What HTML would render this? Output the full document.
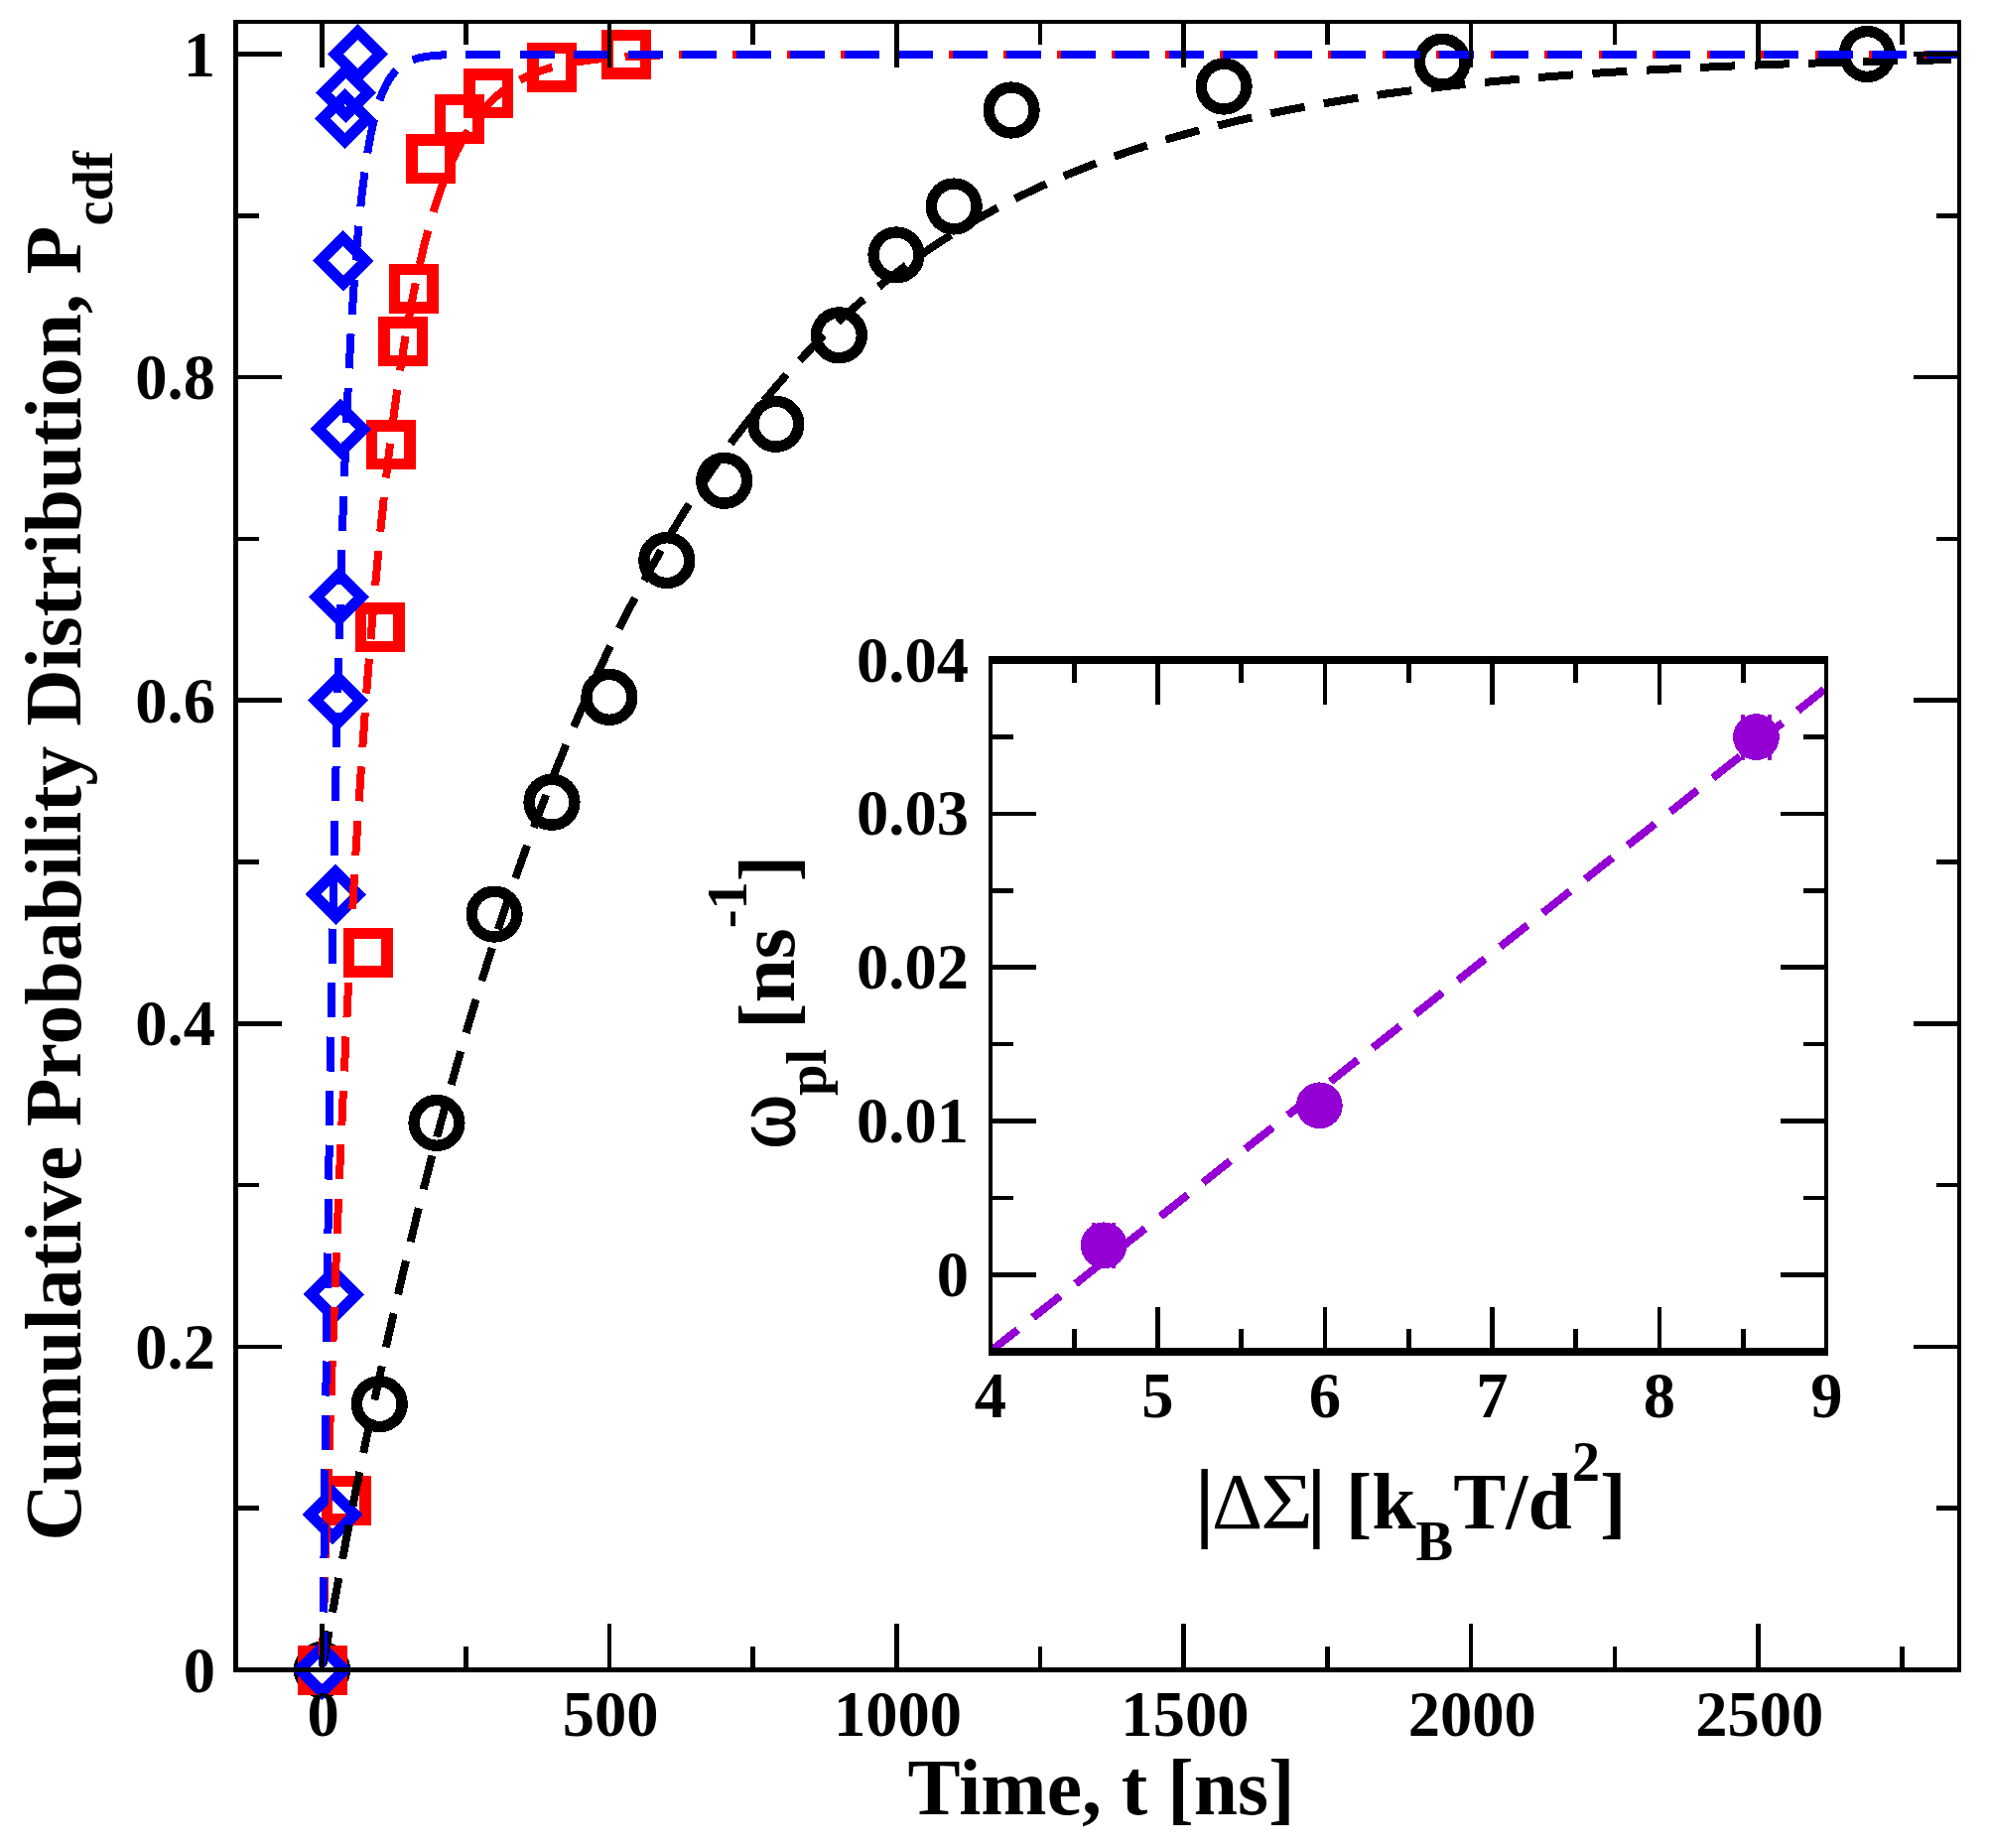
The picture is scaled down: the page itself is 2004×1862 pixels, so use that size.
<!DOCTYPE html>
<html lang="en"><head><meta charset="utf-8"><title>Cumulative Probability Distribution</title>
<style>html,body{margin:0;padding:0;background:#fff}svg{display:block}text{font-family:"Liberation Serif","DejaVu Serif",serif;font-weight:bold;fill:#000}.sym{font-weight:normal}</style></head><body>
<svg width="2004" height="1862" viewBox="0 0 2004 1862" shape-rendering="crispEdges">
<rect x="0" y="0" width="2004" height="1862" fill="#fff"/>
<g fill="none" stroke-linejoin="miter">
<g stroke="#000" stroke-width="11.4">
<circle cx="324.5" cy="1682.5" r="22.9"/>
<circle cx="382.3" cy="1414.7" r="22.9"/>
<circle cx="440.0" cy="1131.4" r="22.9"/>
<circle cx="498.1" cy="921.1" r="22.9"/>
<circle cx="556.0" cy="808.3" r="22.9"/>
<circle cx="613.9" cy="702.4" r="22.9"/>
<circle cx="671.8" cy="564.6" r="22.9"/>
<circle cx="729.7" cy="484.3" r="22.9"/>
<circle cx="781.8" cy="427.3" r="22.9"/>
<circle cx="845.4" cy="337.8" r="22.9"/>
<circle cx="903.0" cy="256.9" r="22.9"/>
<circle cx="961.2" cy="208.0" r="22.9"/>
<circle cx="1019.1" cy="111.0" r="22.9"/>
<circle cx="1233.1" cy="87.1" r="22.9"/>
<circle cx="1453.2" cy="62.2" r="22.9"/>
<circle cx="1881.4" cy="54.5" r="22.9"/>
</g>
<g stroke="#f00" stroke-width="11.5">
<rect x="305.25" y="1663.25" width="38.5" height="38.5"/>
<rect x="329.73" y="1492.47" width="38.5" height="38.5"/>
<rect x="351.55" y="940.74" width="38.5" height="38.5"/>
<rect x="363.36" y="613.19" width="38.5" height="38.5"/>
<rect x="374.71" y="429.23" width="38.5" height="38.5"/>
<rect x="386.75" y="325.03" width="38.5" height="38.5"/>
<rect x="397.57" y="271.31" width="38.5" height="38.5"/>
<rect x="415.22" y="141.07" width="38.5" height="38.5"/>
<rect x="443.58" y="100.37" width="38.5" height="38.5"/>
<rect x="473.10" y="74.81" width="38.5" height="38.5"/>
<rect x="536.77" y="48.27" width="38.5" height="38.5"/>
<rect x="611.78" y="35.25" width="38.5" height="38.5"/>
</g>
<g stroke="#00f" stroke-width="11.3">
<path d="M301.9 1682.5L324.5 1659.9L347.1 1682.5L324.5 1705.1Z"/>
<path d="M312.3 1526.2L334.9 1503.6L357.5 1526.2L334.9 1548.8Z"/>
<path d="M313.7 1304.2L336.3 1281.6L358.9 1304.2L336.3 1326.8Z"/>
<path d="M315.8 901.1L338.4 878.5L361.0 901.1L338.4 923.7Z"/>
<path d="M318.1 705.7L340.7 683.1L363.3 705.7L340.7 728.3Z"/>
<path d="M319.1 601.5L341.7 578.9L364.3 601.5L341.7 624.1Z"/>
<path d="M320.7 432.2L343.3 409.6L365.9 432.2L343.3 454.8Z"/>
<path d="M323.0 262.9L345.6 240.3L368.2 262.9L345.6 285.5Z"/>
<path d="M325.1 119.6L347.7 97.0L370.3 119.6L347.7 142.2Z"/>
<path d="M326.2 93.6L348.8 71.0L371.4 93.6L348.8 116.2Z"/>
<path d="M337.8 54.5L360.4 31.9L383.0 54.5L360.4 77.1Z"/>
</g>
<clipPath id="cp"><rect x="240" y="24" width="1732" height="1656"/></clipPath>
<g clip-path="url(#cp)">
<path d="M324.5 1682.5L325.1 1679.2L325.7 1676.0L326.2 1672.8L326.8 1669.5L327.4 1666.3L328.0 1663.1L328.6 1659.9L329.1 1656.7L329.7 1653.5L330.3 1650.3L330.9 1647.1L331.4 1643.9L332.0 1640.7L332.6 1637.5L333.2 1634.4L333.8 1631.2L334.3 1628.1L334.9 1624.9L335.5 1621.8L336.1 1618.7L336.7 1615.5L337.2 1612.4L337.8 1609.3L338.4 1606.2L339.0 1603.1L339.5 1600.0L340.1 1596.9L340.7 1593.8L341.3 1590.8L341.9 1587.7L342.4 1584.6L343.0 1581.6L343.6 1578.5L344.2 1575.5L344.8 1572.4L345.3 1569.4L345.9 1566.4L346.5 1563.4L347.1 1560.3L347.7 1557.3L348.2 1554.3L348.8 1551.3L349.4 1548.3L350.0 1545.4L350.5 1542.4L351.1 1539.4L351.7 1536.4L352.3 1533.5L352.9 1530.5L353.4 1527.6L354.0 1524.6L354.6 1521.7L355.2 1518.8L355.8 1515.8L356.3 1512.9L356.9 1510.0L357.5 1507.1L358.1 1504.2L358.6 1501.3L359.2 1498.4L359.8 1495.5L360.4 1492.6L361.0 1489.8L361.5 1486.9L362.1 1484.0L362.7 1481.2L363.3 1478.3L363.9 1475.5L364.4 1472.6L365.0 1469.8L365.6 1467.0L366.2 1464.2L366.8 1461.3L367.3 1458.5L367.9 1455.7L368.5 1452.9L369.1 1450.1L369.6 1447.4L370.2 1444.6L370.8 1441.8L371.4 1439.0L372.0 1436.3L372.5 1433.5L373.1 1430.7L373.7 1428.0L374.3 1425.2L374.9 1422.5L375.4 1419.8L376.0 1417.0L376.6 1414.3L377.2 1411.6L377.7 1408.9L378.3 1406.2L378.9 1403.5L379.5 1400.8L380.1 1398.1L380.6 1395.4L381.2 1392.7L381.8 1390.1L382.4 1387.4L383.0 1384.7L383.5 1382.1L384.1 1379.4L384.7 1376.8L385.3 1374.1L385.9 1371.5L386.4 1368.9L387.0 1366.2L387.6 1363.6L388.2 1361.0L388.7 1358.4L389.3 1355.8L389.9 1353.2L390.5 1350.6L391.1 1348.0L391.6 1345.4L392.2 1342.8L392.8 1340.3L393.4 1337.7L394.0 1335.1L394.5 1332.6L395.1 1330.0L395.7 1327.5L396.3 1324.9L396.9 1322.4L397.4 1319.9L398.0 1317.3L398.6 1314.8L399.2 1312.3L399.7 1309.8L400.3 1307.3L400.9 1304.8L401.5 1302.3L402.1 1299.8L402.6 1297.3L403.2 1294.8L403.8 1292.3L404.4 1289.8L405.0 1287.4L405.5 1284.9L406.1 1282.5L406.7 1280.0L407.3 1277.6L407.8 1275.1L408.4 1272.7L409.0 1270.2L409.6 1267.8L410.2 1265.4L410.7 1263.0L411.3 1260.6L411.9 1258.1L412.5 1255.7L413.1 1253.3L413.6 1250.9L414.2 1248.6L414.8 1246.2L415.4 1243.8L416.0 1241.4L416.5 1239.0L417.1 1236.7L417.7 1234.3L418.3 1232.0L418.8 1229.6L419.4 1227.3L420.0 1224.9L420.6 1222.6L421.2 1220.2L421.7 1217.9L422.3 1215.6L422.9 1213.3L423.5 1210.9L424.1 1208.6L424.6 1206.3L425.2 1204.0L425.8 1201.7L426.4 1199.4L426.9 1197.2L427.5 1194.9L428.1 1192.6L428.7 1190.3L429.3 1188.0L429.8 1185.8L430.4 1183.5L431.0 1181.3L431.6 1179.0L432.2 1176.8L432.7 1174.5L433.3 1172.3L433.9 1170.1L434.5 1167.8L435.1 1165.6L435.6 1163.4L436.2 1161.2L436.8 1159.0L437.4 1156.7L437.9 1154.5L438.5 1152.3L439.1 1150.2L439.7 1148.0L440.3 1145.8L440.8 1143.6L441.4 1141.4L442.0 1139.3L442.6 1137.1L443.2 1134.9L443.7 1132.8L444.3 1130.6L444.9 1128.5L445.5 1126.3L446.0 1124.2L446.6 1122.0L447.2 1119.9L447.8 1117.8L448.4 1115.6L448.9 1113.5L449.5 1111.4L450.1 1109.3L450.7 1107.2L451.3 1105.1L451.8 1103.0L452.4 1100.9L453.0 1098.8L453.6 1096.7L454.2 1094.6L454.7 1092.6L455.3 1090.5L455.9 1088.4L456.5 1086.3L457.0 1084.3L457.6 1082.2L458.2 1080.2L458.8 1078.1L459.4 1076.1L459.9 1074.0L460.5 1072.0L461.1 1070.0L461.7 1067.9L462.3 1065.9L462.8 1063.9L463.4 1061.9L464.0 1059.9L464.6 1057.9L465.1 1055.9L465.7 1053.9L466.3 1051.9L466.9 1049.9L467.5 1047.9L468.0 1045.9L468.6 1043.9L469.2 1041.9L469.8 1040.0L470.4 1038.0L470.9 1036.0L471.5 1034.1L472.1 1032.1L472.7 1030.2L473.3 1028.2L473.8 1026.3L474.4 1024.3L475.0 1022.4L475.6 1020.4L476.1 1018.5L476.7 1016.6L477.3 1014.7L477.9 1012.7L478.5 1010.8L479.0 1008.9L479.6 1007.0L480.2 1005.1L480.8 1003.2L481.4 1001.3L481.9 999.4L482.5 997.5L483.1 995.7L483.7 993.8L484.2 991.9L484.8 990.0L485.4 988.2L486.0 986.3L486.6 984.4L487.1 982.6L487.7 980.7L488.3 978.9L488.9 977.0L489.5 975.2L490.0 973.3L490.6 971.5L491.2 969.7L491.8 967.8L492.4 966.0L492.9 964.2L493.5 962.4L494.1 960.6L494.7 958.8L495.2 956.9L495.8 955.1L496.4 953.3L497.0 951.5L497.6 949.8L498.1 948.0L498.7 946.2L499.3 944.4L499.9 942.6L500.5 940.8L501.0 939.1L501.6 937.3L502.2 935.5L502.8 933.8L503.3 932.0L503.9 930.3L504.5 928.5L505.1 926.8L505.7 925.0L506.2 923.3L506.8 921.6L507.4 919.8L508.0 918.1L508.6 916.4L509.1 914.7L509.7 912.9L510.3 911.2L510.9 909.5L511.5 907.8L512.0 906.1L512.6 904.4L513.2 902.7L513.8 901.0L514.3 899.3L514.9 897.6L515.5 895.9L516.1 894.3L516.7 892.6L517.2 890.9L517.8 889.2L518.4 887.6L519.0 885.9L519.6 884.2L520.1 882.6L520.7 880.9L521.3 879.3L521.9 877.6L522.4 876.0L523.0 874.3L523.6 872.7L524.2 871.1L524.8 869.4L525.3 867.8L525.9 866.2L526.5 864.6L527.1 862.9L527.7 861.3L528.2 859.7L528.8 858.1L529.4 856.5L530.0 854.9L530.6 853.3L531.1 851.7L531.7 850.1L532.3 848.5L532.9 846.9L533.4 845.3L534.0 843.8L534.6 842.2L535.2 840.6L535.8 839.0L536.3 837.5L536.9 835.9L537.5 834.4L538.1 832.8L538.7 831.2L539.2 829.7L539.8 828.1L540.4 826.6L541.0 825.1L541.5 823.5L542.1 822.0L542.7 820.4L543.3 818.9L543.9 817.4L544.4 815.9L545.0 814.3L545.6 812.8L546.2 811.3L546.8 809.8L547.3 808.3L547.9 806.8L548.5 805.3L549.1 803.8L549.7 802.3L550.2 800.8L550.8 799.3L551.4 797.8L552.0 796.3L552.5 794.8L553.1 793.4L553.7 791.9L554.3 790.4L554.9 788.9L555.4 787.5L556.0 786.0L558.9 778.7L561.8 771.5L564.7 764.4L567.6 757.3L570.5 750.3L573.4 743.4L576.3 736.6L579.2 729.8L582.1 723.0L585.0 716.4L587.9 709.8L590.7 703.3L593.6 696.8L596.5 690.4L599.4 684.1L602.3 677.8L605.2 671.6L608.1 665.5L611.0 659.4L613.9 653.4L616.8 647.4L619.7 641.5L622.6 635.7L625.5 629.9L628.4 624.2L631.3 618.5L634.2 612.9L637.1 607.4L639.9 601.9L642.8 596.4L645.7 591.0L648.6 585.7L651.5 580.4L654.4 575.2L657.3 570.0L660.2 564.9L663.1 559.8L666.0 554.7L668.9 549.8L671.8 544.8L674.7 540.0L677.6 535.1L680.5 530.4L683.4 525.6L686.2 520.9L689.1 516.3L692.0 511.7L694.9 507.1L697.8 502.6L700.7 498.2L703.6 493.8L706.5 489.4L709.4 485.1L712.3 480.8L715.2 476.5L718.1 472.3L721.0 468.2L723.9 464.1L726.8 460.0L729.7 456.0L732.6 452.0L735.4 448.0L738.3 444.1L741.2 440.2L744.1 436.4L747.0 432.6L749.9 428.8L752.8 425.1L755.7 421.4L758.6 417.8L761.5 414.1L764.4 410.6L767.3 407.0L770.2 403.5L773.1 400.0L776.0 396.6L778.9 393.2L781.8 389.8L784.6 386.5L787.5 383.2L790.4 379.9L793.3 376.7L796.2 373.5L799.1 370.3L802.0 367.2L804.9 364.0L807.8 361.0L810.7 357.9L813.6 354.9L816.5 351.9L819.4 348.9L822.3 346.0L825.2 343.1L828.1 340.2L831.0 337.4L833.8 334.6L836.7 331.8L839.6 329.0L842.5 326.3L845.4 323.6L848.3 320.9L851.2 318.3L854.1 315.7L857.0 313.1L859.9 310.5L862.8 307.9L865.7 305.4L868.6 302.9L871.5 300.4L874.4 298.0L877.3 295.6L880.1 293.2L883.0 290.8L885.9 288.5L888.8 286.1L891.7 283.8L894.6 281.5L897.5 279.3L900.4 277.0L903.3 274.8L906.2 272.6L909.1 270.5L912.0 268.3L914.9 266.2L917.8 264.1L920.7 262.0L923.6 259.9L926.5 257.9L929.3 255.9L932.2 253.9L935.1 251.9L938.0 249.9L940.9 248.0L943.8 246.0L946.7 244.1L949.6 242.2L952.5 240.4L955.4 238.5L958.3 236.7L961.2 234.9L964.1 233.1L967.0 231.3L969.9 229.6L972.8 227.8L975.6 226.1L978.5 224.4L981.4 222.7L984.3 221.0L987.2 219.4L990.1 217.7L993.0 216.1L995.9 214.5L998.8 212.9L1001.7 211.3L1004.6 209.8L1007.5 208.2L1010.4 206.7L1013.3 205.2L1016.2 203.7L1019.1 202.2L1022.0 200.7L1024.8 199.3L1027.7 197.8L1030.6 196.4L1033.5 195.0L1036.4 193.6L1039.3 192.2L1042.2 190.8L1045.1 189.5L1048.0 188.1L1050.9 186.8L1053.8 185.5L1056.7 184.2L1059.6 182.9L1062.5 181.6L1065.4 180.4L1068.3 179.1L1071.2 177.9L1074.0 176.6L1076.9 175.4L1079.8 174.2L1082.7 173.0L1085.6 171.8L1088.5 170.7L1091.4 169.5L1094.3 168.4L1097.2 167.2L1100.1 166.1L1103.0 165.0L1105.9 163.9L1108.8 162.8L1111.7 161.7L1114.6 160.7L1117.5 159.6L1120.3 158.6L1123.2 157.5L1126.1 156.5L1129.0 155.5L1131.9 154.5L1134.8 153.5L1137.7 152.5L1140.6 151.5L1143.5 150.6L1146.4 149.6L1149.3 148.7L1152.2 147.7L1155.1 146.8L1158.0 145.9L1160.9 145.0L1163.8 144.1L1166.7 143.2L1169.5 142.3L1172.4 141.4L1175.3 140.6L1178.2 139.7L1181.1 138.9L1184.0 138.0L1186.9 137.2L1189.8 136.4L1192.7 135.6L1195.6 134.7L1198.5 133.9L1201.4 133.2L1204.3 132.4L1207.2 131.6L1210.1 130.8L1213.0 130.1L1215.9 129.3L1218.7 128.6L1221.6 127.8L1224.5 127.1L1227.4 126.4L1230.3 125.7L1233.2 125.0L1236.1 124.3L1239.0 123.6L1241.9 122.9L1244.8 122.2L1247.7 121.5L1250.6 120.9L1253.5 120.2L1256.4 119.5L1259.3 118.9L1262.2 118.3L1265.0 117.6L1267.9 117.0L1270.8 116.4L1273.7 115.8L1276.6 115.1L1279.5 114.5L1282.4 113.9L1285.3 113.4L1288.2 112.8L1291.1 112.2L1294.0 111.6L1296.9 111.0L1299.8 110.5L1302.7 109.9L1305.6 109.4L1308.5 108.8L1311.4 108.3L1314.2 107.8L1317.1 107.2L1320.0 106.7L1322.9 106.2L1325.8 105.7L1328.7 105.2L1331.6 104.7L1334.5 104.2L1337.4 103.7L1340.3 103.2L1343.2 102.7L1346.1 102.2L1349.0 101.7L1351.9 101.3L1354.8 100.8L1357.7 100.3L1360.6 99.9L1363.4 99.4L1366.3 99.0L1369.2 98.5L1372.1 98.1L1375.0 97.7L1377.9 97.2L1380.8 96.8L1383.7 96.4L1386.6 96.0L1389.5 95.6L1392.4 95.2L1395.3 94.7L1398.2 94.3L1401.1 94.0L1404.0 93.6L1406.9 93.2L1409.8 92.8L1412.6 92.4L1415.5 92.0L1418.4 91.7L1421.3 91.3L1424.2 90.9L1427.1 90.6L1430.0 90.2L1432.9 89.8L1435.8 89.5L1438.7 89.1L1441.6 88.8L1444.5 88.5L1447.4 88.1L1450.3 87.8L1453.2 87.5L1456.1 87.1L1458.9 86.8L1461.8 86.5L1464.7 86.2L1467.6 85.8L1470.5 85.5L1473.4 85.2L1476.3 84.9L1479.2 84.6L1482.1 84.3L1485.0 84.0L1487.9 83.7L1490.8 83.4L1493.7 83.1L1496.6 82.9L1499.5 82.6L1502.4 82.3L1505.3 82.0L1508.1 81.8L1511.0 81.5L1513.9 81.2L1516.8 80.9L1519.7 80.7L1522.6 80.4L1525.5 80.2L1528.4 79.9L1531.3 79.7L1534.2 79.4L1537.1 79.2L1540.0 78.9L1542.9 78.7L1545.8 78.4L1548.7 78.2L1551.6 78.0L1554.5 77.7L1557.3 77.5L1560.2 77.3L1563.1 77.0L1566.0 76.8L1568.9 76.6L1571.8 76.4L1574.7 76.2L1577.6 75.9L1580.5 75.7L1583.4 75.5L1586.3 75.3L1589.2 75.1L1592.1 74.9L1595.0 74.7L1597.9 74.5L1600.8 74.3L1603.6 74.1L1606.5 73.9L1609.4 73.7L1612.3 73.5L1615.2 73.3L1618.1 73.1L1621.0 73.0L1623.9 72.8L1626.8 72.6L1629.7 72.4L1632.6 72.2L1635.5 72.1L1638.4 71.9L1641.3 71.7L1644.2 71.5L1647.1 71.4L1650.0 71.2L1652.8 71.0L1655.7 70.9L1658.6 70.7L1661.5 70.5L1664.4 70.4L1667.3 70.2L1670.2 70.1L1673.1 69.9L1676.0 69.8L1678.9 69.6L1681.8 69.5L1684.7 69.3L1687.6 69.2L1690.5 69.0L1693.4 68.9L1696.3 68.7L1699.1 68.6L1702.0 68.4L1704.9 68.3L1707.8 68.2L1710.7 68.0L1713.6 67.9L1716.5 67.8L1719.4 67.6L1722.3 67.5L1725.2 67.4L1728.1 67.2L1731.0 67.1L1733.9 67.0L1736.8 66.9L1739.7 66.7L1742.6 66.6L1745.5 66.5L1748.3 66.4L1751.2 66.3L1754.1 66.1L1757.0 66.0L1759.9 65.9L1762.8 65.8L1765.7 65.7L1768.6 65.6L1771.5 65.5L1774.4 65.4L1777.3 65.3L1780.2 65.1L1783.1 65.0L1786.0 64.9L1788.9 64.8L1791.8 64.7L1794.7 64.6L1797.5 64.5L1800.4 64.4L1803.3 64.3L1806.2 64.2L1809.1 64.1L1812.0 64.0L1814.9 63.9L1817.8 63.8L1820.7 63.8L1823.6 63.7L1826.5 63.6L1829.4 63.5L1832.3 63.4L1835.2 63.3L1838.1 63.2L1841.0 63.1L1843.8 63.0L1846.7 63.0L1849.6 62.9L1852.5 62.8L1855.4 62.7L1858.3 62.6L1861.2 62.5L1864.1 62.5L1867.0 62.4L1869.9 62.3L1872.8 62.2L1875.7 62.2L1878.6 62.1L1881.5 62.0L1884.4 61.9L1887.3 61.9L1890.2 61.8L1893.0 61.7L1895.9 61.6L1898.8 61.6L1901.7 61.5L1904.6 61.4L1907.5 61.4L1910.4 61.3L1913.3 61.2L1916.2 61.2L1919.1 61.1L1922.0 61.0L1924.9 61.0L1927.8 60.9L1930.7 60.8L1933.6 60.8L1936.5 60.7L1939.4 60.6L1942.2 60.6L1945.1 60.5L1948.0 60.5L1950.9 60.4L1953.8 60.3L1956.7 60.3L1959.6 60.2L1962.5 60.2L1965.4 60.1L1968.3 60.1L1971.2 60.0L1974.1 59.9" stroke="#000" stroke-width="8" stroke-dasharray="35 19.5" stroke-dashoffset="-4.5"/>
<path d="M324.5 1682.5L325.1 1663.1L325.7 1643.9L326.2 1624.9L326.8 1606.2L327.4 1587.7L328.0 1569.4L328.6 1551.3L329.1 1533.5L329.7 1515.8L330.3 1498.4L330.9 1481.2L331.4 1464.2L332.0 1447.4L332.6 1430.7L333.2 1414.3L333.8 1398.1L334.3 1382.1L334.9 1366.2L335.5 1350.6L336.1 1335.1L336.7 1319.9L337.2 1304.8L337.8 1289.8L338.4 1275.1L339.0 1260.6L339.5 1246.2L340.1 1232.0L340.7 1217.9L341.3 1204.0L341.9 1190.3L342.4 1176.8L343.0 1163.4L343.6 1150.2L344.2 1137.1L344.8 1124.2L345.3 1111.4L345.9 1098.8L346.5 1086.3L347.1 1074.0L347.7 1061.9L348.2 1049.9L348.8 1038.0L349.4 1026.3L350.0 1014.7L350.5 1003.2L351.1 991.9L351.7 980.7L352.3 969.7L352.9 958.8L353.4 948.0L354.0 937.3L354.6 926.8L355.2 916.4L355.8 906.1L356.3 895.9L356.9 885.9L357.5 876.0L358.1 866.2L358.6 856.5L359.2 846.9L359.8 837.5L360.4 828.1L361.0 818.9L361.5 809.8L362.1 800.8L362.7 791.9L363.3 783.1L363.9 774.4L364.4 765.8L365.0 757.3L365.6 748.9L366.2 740.7L366.8 732.5L367.3 724.4L367.9 716.4L368.5 708.5L369.1 700.7L369.6 693.0L370.2 685.4L370.8 677.8L371.4 670.4L372.0 663.1L372.5 655.8L373.1 648.6L373.7 641.5L374.3 634.5L374.9 627.6L375.4 620.8L376.0 614.0L376.6 607.4L377.2 600.8L377.7 594.3L378.3 587.8L378.9 581.5L379.5 575.2L380.1 569.0L380.6 562.8L381.2 556.8L381.8 550.8L382.4 544.8L383.0 539.0L383.5 533.2L384.1 527.5L384.7 521.9L385.3 516.3L385.9 510.8L386.4 505.3L387.0 500.0L387.6 494.6L388.2 489.4L388.7 484.2L389.3 479.1L389.9 474.0L390.5 469.0L391.1 464.1L391.6 459.2L392.2 454.4L392.8 449.6L393.4 444.9L394.0 440.2L394.5 435.6L395.1 431.1L395.7 426.6L396.3 422.1L396.9 417.8L397.4 413.4L398.0 409.1L398.6 404.9L399.2 400.7L399.7 396.6L400.3 392.5L400.9 388.5L401.5 384.5L402.1 380.6L402.6 376.7L403.2 372.8L403.8 369.0L404.4 365.3L405.0 361.6L405.5 357.9L406.1 354.3L406.7 350.7L407.3 347.2L407.8 343.7L408.4 340.2L409.0 336.8L409.6 333.5L410.2 330.1L410.7 326.9L411.3 323.6L411.9 320.4L412.5 317.2L413.1 314.1L413.6 311.0L414.2 307.9L414.8 304.9L415.4 301.9L416.0 299.0L416.5 296.1L417.1 293.2L417.7 290.3L418.3 287.5L418.8 284.7L419.4 282.0L420.0 279.3L420.6 276.6L421.2 273.9L421.7 271.3L422.3 268.7L422.9 266.2L423.5 263.7L424.1 261.2L424.6 258.7L425.2 256.3L425.8 253.9L426.4 251.5L426.9 249.1L427.5 246.8L428.1 244.5L428.7 242.2L429.3 240.0L429.8 237.8L430.4 235.6L431.0 233.5L431.6 231.3L432.2 229.2L432.7 227.1L433.3 225.1L433.9 223.0L434.5 221.0L435.1 219.0L435.6 217.1L436.2 215.1L436.8 213.2L437.4 211.3L437.9 209.5L438.5 207.6L439.1 205.8L439.7 204.0L440.3 202.2L440.8 200.4L441.4 198.7L442.0 197.0L442.6 195.3L443.2 193.6L443.7 191.9L444.3 190.3L444.9 188.7L445.5 187.1L446.0 185.5L446.6 183.9L447.2 182.4L447.8 180.9L448.4 179.3L448.9 177.9L449.5 176.4L450.1 174.9L450.7 173.5L451.3 172.1L451.8 170.7L452.4 169.3L453.0 167.9L453.6 166.6L454.2 165.2L454.7 163.9L455.3 162.6L455.9 161.3L456.5 160.0L457.0 158.8L457.6 157.5L458.2 156.3L458.8 155.1L459.4 153.9L459.9 152.7L460.5 151.5L461.1 150.4L461.7 149.2L462.3 148.1L462.8 147.0L463.4 145.9L464.0 144.8L464.6 143.7L465.1 142.7L465.7 141.6L466.3 140.6L466.9 139.5L467.5 138.5L468.0 137.5L468.6 136.5L469.2 135.6L469.8 134.6L470.4 133.6L470.9 132.7L471.5 131.8L472.1 130.8L472.7 129.9L473.3 129.0L473.8 128.1L474.4 127.3L475.0 126.4L475.6 125.5L476.1 124.7L476.7 123.8L477.3 123.0L477.9 122.2L478.5 121.4L479.0 120.6L479.6 119.8L480.2 119.0L480.8 118.3L481.4 117.5L481.9 116.7L482.5 116.0L483.1 115.3L483.7 114.5L484.2 113.8L484.8 113.1L485.4 112.4L486.0 111.7L486.6 111.0L487.1 110.4L487.7 109.7L488.3 109.0L488.9 108.4L489.5 107.8L490.0 107.1L490.6 106.5L491.2 105.9L491.8 105.3L492.4 104.7L492.9 104.1L493.5 103.5L494.1 102.9L494.7 102.3L495.2 101.7L495.8 101.2L496.4 100.6L497.0 100.1L497.6 99.5L498.1 99.0L498.7 98.5L499.3 97.9L499.9 97.4L500.5 96.9L501.0 96.4L501.6 95.9L502.2 95.4L502.8 94.9L503.3 94.4L503.9 94.0L504.5 93.5L505.1 93.0L505.7 92.6L506.2 92.1L506.8 91.7L507.4 91.2L508.0 90.8L508.6 90.3L509.1 89.9L509.7 89.5L510.3 89.1L510.9 88.7L511.5 88.3L512.0 87.9L512.6 87.5L513.2 87.1L513.8 86.7L514.3 86.3L514.9 85.9L515.5 85.5L516.1 85.2L516.7 84.8L517.2 84.4L517.8 84.1L518.4 83.7L519.0 83.4L519.6 83.0L520.1 82.7L520.7 82.4L521.3 82.0L521.9 81.7L522.4 81.4L523.0 81.1L523.6 80.7L524.2 80.4L524.8 80.1L525.3 79.8L525.9 79.5L526.5 79.2L527.1 78.9L527.7 78.6L528.2 78.3L528.8 78.0L529.4 77.8L530.0 77.5L530.6 77.2L531.1 76.9L531.7 76.7L532.3 76.4L532.9 76.2L533.4 75.9L534.0 75.6L534.6 75.4L535.2 75.1L535.8 74.9L536.3 74.6L536.9 74.4L537.5 74.2L538.1 73.9L538.7 73.7L539.2 73.5L539.8 73.2L540.4 73.0L541.0 72.8L541.5 72.6L542.1 72.4L542.7 72.2L543.3 71.9L543.9 71.7L544.4 71.5L545.0 71.3L545.6 71.1L546.2 70.9L546.8 70.7L547.3 70.5L547.9 70.3L548.5 70.2L549.1 70.0L549.7 69.8L550.2 69.6L550.8 69.4L551.4 69.2L552.0 69.1L552.5 68.9L553.1 68.7L553.7 68.6L554.3 68.4L554.9 68.2L555.4 68.1L556.0 67.9L558.9 67.1L561.8 66.4L564.7 65.7L567.6 65.0L570.5 64.4L573.4 63.8L576.3 63.3L579.2 62.8L582.1 62.3L585.0 61.9L587.9 61.4L590.7 61.0L593.6 60.6L596.5 60.3L599.4 59.9L602.3 59.6L605.2 59.3L608.1 59.0L611.0 58.8L613.9 58.5L616.8 58.3L619.7 58.1L622.6 57.9L625.5 57.7L628.4 57.5L631.3 57.3L634.2 57.2L637.1 57.0L639.9 56.9L642.8 56.7L645.7 56.6L648.6 56.5L651.5 56.3L654.4 56.2L657.3 56.1L660.2 56.0L663.1 56.0L666.0 55.9L668.9 55.8L671.8 55.7L674.7 55.6L677.6 55.6L680.5 55.5L683.4 55.5L686.2 55.4L689.1 55.3L692.0 55.3L694.9 55.3L697.8 55.2L700.7 55.2L703.6 55.1L706.5 55.1L709.4 55.1L712.3 55.0L715.2 55.0L718.1 55.0L721.0 54.9L723.9 54.9L726.8 54.9L729.7 54.9L732.6 54.8L735.4 54.8L738.3 54.8L741.2 54.8L744.1 54.8L747.0 54.8L749.9 54.7L752.8 54.7L755.7 54.7L758.6 54.7L761.5 54.7L764.4 54.7L767.3 54.7L770.2 54.7L773.1 54.6L776.0 54.6L778.9 54.6L781.8 54.6L784.6 54.6L787.5 54.6L790.4 54.6L793.3 54.6L796.2 54.6L799.1 54.6L802.0 54.6L804.9 54.6L807.8 54.6L810.7 54.6L813.6 54.6L816.5 54.6L819.4 54.6L822.3 54.6L825.2 54.6L828.1 54.5L831.0 54.5L833.8 54.5L836.7 54.5L839.6 54.5L842.5 54.5L845.4 54.5L848.3 54.5L851.2 54.5L854.1 54.5L857.0 54.5L859.9 54.5L862.8 54.5L865.7 54.5L868.6 54.5L871.5 54.5L874.4 54.5L877.3 54.5L880.1 54.5L883.0 54.5L885.9 54.5L888.8 54.5L891.7 54.5L894.6 54.5L897.5 54.5L900.4 54.5L903.3 54.5L906.2 54.5L909.1 54.5L912.0 54.5L914.9 54.5L917.8 54.5L920.7 54.5L923.6 54.5L926.5 54.5L929.3 54.5L932.2 54.5L935.1 54.5L938.0 54.5L940.9 54.5L943.8 54.5L946.7 54.5L949.6 54.5L952.5 54.5L955.4 54.5L958.3 54.5L961.2 54.5L964.1 54.5L967.0 54.5L969.9 54.5L972.8 54.5L975.6 54.5L978.5 54.5L981.4 54.5L984.3 54.5L987.2 54.5L990.1 54.5L993.0 54.5L995.9 54.5L998.8 54.5L1001.7 54.5L1004.6 54.5L1007.5 54.5L1010.4 54.5L1013.3 54.5L1016.2 54.5L1019.1 54.5L1022.0 54.5L1024.8 54.5L1027.7 54.5L1030.6 54.5L1033.5 54.5L1036.4 54.5L1039.3 54.5L1042.2 54.5L1045.1 54.5L1048.0 54.5L1050.9 54.5L1053.8 54.5L1056.7 54.5L1059.6 54.5L1062.5 54.5L1065.4 54.5L1068.3 54.5L1071.2 54.5L1074.0 54.5L1076.9 54.5L1079.8 54.5L1082.7 54.5L1085.6 54.5L1088.5 54.5L1091.4 54.5L1094.3 54.5L1097.2 54.5L1100.1 54.5L1103.0 54.5L1105.9 54.5L1108.8 54.5L1111.7 54.5L1114.6 54.5L1117.5 54.5L1120.3 54.5L1123.2 54.5L1126.1 54.5L1129.0 54.5L1131.9 54.5L1134.8 54.5L1137.7 54.5L1140.6 54.5L1143.5 54.5L1146.4 54.5L1149.3 54.5L1152.2 54.5L1155.1 54.5L1158.0 54.5L1160.9 54.5L1163.8 54.5L1166.7 54.5L1169.5 54.5L1172.4 54.5L1175.3 54.5L1178.2 54.5L1181.1 54.5L1184.0 54.5L1186.9 54.5L1189.8 54.5L1192.7 54.5L1195.6 54.5L1198.5 54.5L1201.4 54.5L1204.3 54.5L1207.2 54.5L1210.1 54.5L1213.0 54.5L1215.9 54.5L1218.7 54.5L1221.6 54.5L1224.5 54.5L1227.4 54.5L1230.3 54.5L1233.2 54.5L1236.1 54.5L1239.0 54.5L1241.9 54.5L1244.8 54.5L1247.7 54.5L1250.6 54.5L1253.5 54.5L1256.4 54.5L1259.3 54.5L1262.2 54.5L1265.0 54.5L1267.9 54.5L1270.8 54.5L1273.7 54.5L1276.6 54.5L1279.5 54.5L1282.4 54.5L1285.3 54.5L1288.2 54.5L1291.1 54.5L1294.0 54.5L1296.9 54.5L1299.8 54.5L1302.7 54.5L1305.6 54.5L1308.5 54.5L1311.4 54.5L1314.2 54.5L1317.1 54.5L1320.0 54.5L1322.9 54.5L1325.8 54.5L1328.7 54.5L1331.6 54.5L1334.5 54.5L1337.4 54.5L1340.3 54.5L1343.2 54.5L1346.1 54.5L1349.0 54.5L1351.9 54.5L1354.8 54.5L1357.7 54.5L1360.6 54.5L1363.4 54.5L1366.3 54.5L1369.2 54.5L1372.1 54.5L1375.0 54.5L1377.9 54.5L1380.8 54.5L1383.7 54.5L1386.6 54.5L1389.5 54.5L1392.4 54.5L1395.3 54.5L1398.2 54.5L1401.1 54.5L1404.0 54.5L1406.9 54.5L1409.8 54.5L1412.6 54.5L1415.5 54.5L1418.4 54.5L1421.3 54.5L1424.2 54.5L1427.1 54.5L1430.0 54.5L1432.9 54.5L1435.8 54.5L1438.7 54.5L1441.6 54.5L1444.5 54.5L1447.4 54.5L1450.3 54.5L1453.2 54.5L1456.1 54.5L1458.9 54.5L1461.8 54.5L1464.7 54.5L1467.6 54.5L1470.5 54.5L1473.4 54.5L1476.3 54.5L1479.2 54.5L1482.1 54.5L1485.0 54.5L1487.9 54.5L1490.8 54.5L1493.7 54.5L1496.6 54.5L1499.5 54.5L1502.4 54.5L1505.3 54.5L1508.1 54.5L1511.0 54.5L1513.9 54.5L1516.8 54.5L1519.7 54.5L1522.6 54.5L1525.5 54.5L1528.4 54.5L1531.3 54.5L1534.2 54.5L1537.1 54.5L1540.0 54.5L1542.9 54.5L1545.8 54.5L1548.7 54.5L1551.6 54.5L1554.5 54.5L1557.3 54.5L1560.2 54.5L1563.1 54.5L1566.0 54.5L1568.9 54.5L1571.8 54.5L1574.7 54.5L1577.6 54.5L1580.5 54.5L1583.4 54.5L1586.3 54.5L1589.2 54.5L1592.1 54.5L1595.0 54.5L1597.9 54.5L1600.8 54.5L1603.6 54.5L1606.5 54.5L1609.4 54.5L1612.3 54.5L1615.2 54.5L1618.1 54.5L1621.0 54.5L1623.9 54.5L1626.8 54.5L1629.7 54.5L1632.6 54.5L1635.5 54.5L1638.4 54.5L1641.3 54.5L1644.2 54.5L1647.1 54.5L1650.0 54.5L1652.8 54.5L1655.7 54.5L1658.6 54.5L1661.5 54.5L1664.4 54.5L1667.3 54.5L1670.2 54.5L1673.1 54.5L1676.0 54.5L1678.9 54.5L1681.8 54.5L1684.7 54.5L1687.6 54.5L1690.5 54.5L1693.4 54.5L1696.3 54.5L1699.1 54.5L1702.0 54.5L1704.9 54.5L1707.8 54.5L1710.7 54.5L1713.6 54.5L1716.5 54.5L1719.4 54.5L1722.3 54.5L1725.2 54.5L1728.1 54.5L1731.0 54.5L1733.9 54.5L1736.8 54.5L1739.7 54.5L1742.6 54.5L1745.5 54.5L1748.3 54.5L1751.2 54.5L1754.1 54.5L1757.0 54.5L1759.9 54.5L1762.8 54.5L1765.7 54.5L1768.6 54.5L1771.5 54.5L1774.4 54.5L1777.3 54.5L1780.2 54.5L1783.1 54.5L1786.0 54.5L1788.9 54.5L1791.8 54.5L1794.7 54.5L1797.5 54.5L1800.4 54.5L1803.3 54.5L1806.2 54.5L1809.1 54.5L1812.0 54.5L1814.9 54.5L1817.8 54.5L1820.7 54.5L1823.6 54.5L1826.5 54.5L1829.4 54.5L1832.3 54.5L1835.2 54.5L1838.1 54.5L1841.0 54.5L1843.8 54.5L1846.7 54.5L1849.6 54.5L1852.5 54.5L1855.4 54.5L1858.3 54.5L1861.2 54.5L1864.1 54.5L1867.0 54.5L1869.9 54.5L1872.8 54.5L1875.7 54.5L1878.6 54.5L1881.5 54.5L1884.4 54.5L1887.3 54.5L1890.2 54.5L1893.0 54.5L1895.9 54.5L1898.8 54.5L1901.7 54.5L1904.6 54.5L1907.5 54.5L1910.4 54.5L1913.3 54.5L1916.2 54.5L1919.1 54.5L1922.0 54.5L1924.9 54.5L1927.8 54.5L1930.7 54.5L1933.6 54.5L1936.5 54.5L1939.4 54.5L1942.2 54.5L1945.1 54.5L1948.0 54.5L1950.9 54.5L1953.8 54.5L1956.7 54.5L1959.6 54.5L1962.5 54.5L1965.4 54.5L1968.3 54.5L1971.2 54.5L1974.1 54.5" stroke="#f00" stroke-width="8" stroke-dasharray="35 19.5" stroke-dashoffset="-4"/>
<path d="M325.4 1682.5L325.9 1624.9L326.5 1569.4L327.1 1515.8L327.7 1464.2L328.3 1414.3L328.8 1366.2L329.4 1319.9L330.0 1275.1L330.6 1232.0L331.2 1190.3L331.7 1150.2L332.3 1111.4L332.9 1074.0L333.5 1038.0L334.1 1003.2L334.6 969.7L335.2 937.3L335.8 906.1L336.4 876.0L336.9 846.9L337.5 818.9L338.1 791.9L338.7 765.8L339.3 740.7L339.8 716.4L340.4 693.0L341.0 670.4L341.6 648.6L342.2 627.6L342.7 607.4L343.3 587.8L343.9 569.0L344.5 550.8L345.0 533.2L345.6 516.3L346.2 500.0L346.8 484.2L347.4 469.0L347.9 454.4L348.5 440.2L349.1 426.6L349.7 413.4L350.3 400.7L350.8 388.5L351.4 376.7L352.0 365.3L352.6 354.3L353.2 343.7L353.7 333.5L354.3 323.6L354.9 314.1L355.5 304.9L356.0 296.1L356.6 287.5L357.2 279.3L357.8 271.3L358.4 263.7L358.9 256.3L359.5 249.1L360.1 242.2L360.7 235.6L361.3 229.2L361.8 223.0L362.4 217.1L363.0 211.3L363.6 205.8L364.1 200.4L364.7 195.3L365.3 190.3L365.9 185.5L366.5 180.9L367.0 176.4L367.6 172.1L368.2 167.9L368.8 163.9L369.4 160.0L369.9 156.3L370.5 152.7L371.1 149.2L371.7 145.9L372.3 142.7L372.8 139.5L373.4 136.5L374.0 133.6L374.6 130.8L375.1 128.1L375.7 125.5L376.3 123.0L376.9 120.6L377.5 118.3L378.0 116.0L378.6 113.8L379.2 111.7L379.8 109.7L380.4 107.8L380.9 105.9L381.5 104.1L382.1 102.3L382.7 100.6L383.2 99.0L383.8 97.4L384.4 95.9L385.0 94.4L385.6 93.0L386.1 91.7L386.7 90.3L387.3 89.1L387.9 87.9L388.5 86.7L389.0 85.5L389.6 84.4L390.2 83.4L390.8 82.4L391.4 81.4L391.9 80.4L392.5 79.5L393.1 78.6L393.7 77.8L394.2 76.9L394.8 76.2L395.4 75.4L396.0 74.6L396.6 73.9L397.1 73.2L397.7 72.6L398.3 71.9L398.9 71.3L399.5 70.7L400.0 70.2L400.6 69.6L401.2 69.1L401.8 68.6L402.3 68.1L402.9 67.6L403.5 67.1L404.1 66.7L404.7 66.2L405.2 65.8L405.8 65.4L406.4 65.0L407.0 64.7L407.6 64.3L408.1 64.0L408.7 63.6L409.3 63.3L409.9 63.0L410.5 62.7L411.0 62.4L411.6 62.1L412.2 61.9L412.8 61.6L413.3 61.3L413.9 61.1L414.5 60.9L415.1 60.6L415.7 60.4L416.2 60.2L416.8 60.0L417.4 59.8L418.0 59.6L418.6 59.4L419.1 59.3L419.7 59.1L420.3 58.9L420.9 58.8L421.4 58.6L422.0 58.5L422.6 58.3L423.2 58.2L423.8 58.1L424.3 58.0L424.9 57.8L425.5 57.7L426.1 57.6L426.7 57.5L427.2 57.4L427.8 57.3L428.4 57.2L429.0 57.1L429.6 57.0L430.1 56.9L430.7 56.8L431.3 56.7L431.9 56.7L432.4 56.6L433.0 56.5L433.6 56.4L434.2 56.4L434.8 56.3L435.3 56.2L435.9 56.2L436.5 56.1L437.1 56.1L437.7 56.0L438.2 56.0L438.8 55.9L439.4 55.9L440.0 55.8L440.5 55.8L441.1 55.7L441.7 55.7L442.3 55.6L442.9 55.6L443.4 55.6L444.0 55.5L444.6 55.5L445.2 55.4L445.8 55.4L446.3 55.4L446.9 55.3L447.5 55.3L448.1 55.3L448.7 55.3L449.2 55.2L449.8 55.2L450.4 55.2L451.0 55.2L451.5 55.1L452.1 55.1L452.7 55.1L453.3 55.1L453.9 55.1L454.4 55.0L455.0 55.0L455.6 55.0L456.2 55.0L456.8 55.0L457.3 54.9L457.9 54.9L458.5 54.9L459.1 54.9L459.6 54.9L460.2 54.9L460.8 54.9L461.4 54.8L462.0 54.8L462.5 54.8L463.1 54.8L463.7 54.8L464.3 54.8L464.9 54.8L465.4 54.8L466.0 54.8L466.6 54.7L467.2 54.7L467.8 54.7L468.3 54.7L468.9 54.7L469.5 54.7L470.1 54.7L470.6 54.7L471.2 54.7L471.8 54.7L472.4 54.7L473.0 54.7L473.5 54.7L474.1 54.7L474.7 54.7L475.3 54.6L475.9 54.6L476.4 54.6L477.0 54.6L477.6 54.6L478.2 54.6L478.8 54.6L479.3 54.6L479.9 54.6L480.5 54.6L481.1 54.6L481.6 54.6L482.2 54.6L482.8 54.6L483.4 54.6L484.0 54.6L484.5 54.6L485.1 54.6L485.7 54.6L486.3 54.6L486.9 54.6L487.4 54.6L488.0 54.6L488.6 54.6L489.2 54.6L489.7 54.6L490.3 54.6L490.9 54.6L491.5 54.6L492.1 54.6L492.6 54.5L493.2 54.5L493.8 54.5L494.4 54.5L495.0 54.5L495.5 54.5L496.1 54.5L496.7 54.5L497.3 54.5L497.9 54.5L498.4 54.5L499.0 54.5L499.6 54.5L500.2 54.5L500.7 54.5L501.3 54.5L501.9 54.5L502.5 54.5L503.1 54.5L503.6 54.5L504.2 54.5L504.8 54.5L505.4 54.5L506.0 54.5L506.5 54.5L507.1 54.5L507.7 54.5L508.3 54.5L508.8 54.5L509.4 54.5L510.0 54.5L510.6 54.5L511.2 54.5L511.7 54.5L512.3 54.5L512.9 54.5L513.5 54.5L514.1 54.5L514.6 54.5L515.2 54.5L515.8 54.5L516.4 54.5L517.0 54.5L517.5 54.5L518.1 54.5L518.7 54.5L519.3 54.5L519.8 54.5L520.4 54.5L521.0 54.5L521.6 54.5L522.2 54.5L522.7 54.5L523.3 54.5L523.9 54.5L524.5 54.5L525.1 54.5L525.6 54.5L526.2 54.5L526.8 54.5L527.4 54.5L527.9 54.5L528.5 54.5L529.1 54.5L529.7 54.5L530.3 54.5L530.8 54.5L531.4 54.5L532.0 54.5L532.6 54.5L533.2 54.5L533.7 54.5L534.3 54.5L534.9 54.5L535.5 54.5L536.1 54.5L536.6 54.5L537.2 54.5L537.8 54.5L538.4 54.5L538.9 54.5L539.5 54.5L540.1 54.5L540.7 54.5L541.3 54.5L541.8 54.5L542.4 54.5L543.0 54.5L543.6 54.5L544.2 54.5L544.7 54.5L545.3 54.5L545.9 54.5L546.5 54.5L547.0 54.5L547.6 54.5L548.2 54.5L548.8 54.5L549.4 54.5L549.9 54.5L550.5 54.5L551.1 54.5L551.7 54.5L552.3 54.5L552.8 54.5L553.4 54.5L554.0 54.5L554.6 54.5L555.2 54.5L555.7 54.5L556.3 54.5L559.2 54.5L562.1 54.5L565.0 54.5L567.9 54.5L570.8 54.5L573.7 54.5L576.6 54.5L579.5 54.5L582.4 54.5L585.2 54.5L588.1 54.5L591.0 54.5L593.9 54.5L596.8 54.5L599.7 54.5L602.6 54.5L605.5 54.5L608.4 54.5L611.3 54.5L614.2 54.5L617.1 54.5L620.0 54.5L622.9 54.5L625.8 54.5L628.7 54.5L631.6 54.5L634.4 54.5L637.3 54.5L640.2 54.5L643.1 54.5L646.0 54.5L648.9 54.5L651.8 54.5L654.7 54.5L657.6 54.5L660.5 54.5L663.4 54.5L666.3 54.5L669.2 54.5L672.1 54.5L675.0 54.5L677.9 54.5L680.8 54.5L683.6 54.5L686.5 54.5L689.4 54.5L692.3 54.5L695.2 54.5L698.1 54.5L701.0 54.5L703.9 54.5L706.8 54.5L709.7 54.5L712.6 54.5L715.5 54.5L718.4 54.5L721.3 54.5L724.2 54.5L727.1 54.5L729.9 54.5L732.8 54.5L735.7 54.5L738.6 54.5L741.5 54.5L744.4 54.5L747.3 54.5L750.2 54.5L753.1 54.5L756.0 54.5L758.9 54.5L761.8 54.5L764.7 54.5L767.6 54.5L770.5 54.5L773.4 54.5L776.3 54.5L779.1 54.5L782.0 54.5L784.9 54.5L787.8 54.5L790.7 54.5L793.6 54.5L796.5 54.5L799.4 54.5L802.3 54.5L805.2 54.5L808.1 54.5L811.0 54.5L813.9 54.5L816.8 54.5L819.7 54.5L822.6 54.5L825.5 54.5L828.3 54.5L831.2 54.5L834.1 54.5L837.0 54.5L839.9 54.5L842.8 54.5L845.7 54.5L848.6 54.5L851.5 54.5L854.4 54.5L857.3 54.5L860.2 54.5L863.1 54.5L866.0 54.5L868.9 54.5L871.8 54.5L874.6 54.5L877.5 54.5L880.4 54.5L883.3 54.5L886.2 54.5L889.1 54.5L892.0 54.5L894.9 54.5L897.8 54.5L900.7 54.5L903.6 54.5L906.5 54.5L909.4 54.5L912.3 54.5L915.2 54.5L918.1 54.5L921.0 54.5L923.8 54.5L926.7 54.5L929.6 54.5L932.5 54.5L935.4 54.5L938.3 54.5L941.2 54.5L944.1 54.5L947.0 54.5L949.9 54.5L952.8 54.5L955.7 54.5L958.6 54.5L961.5 54.5L964.4 54.5L967.3 54.5L970.2 54.5L973.0 54.5L975.9 54.5L978.8 54.5L981.7 54.5L984.6 54.5L987.5 54.5L990.4 54.5L993.3 54.5L996.2 54.5L999.1 54.5L1002.0 54.5L1004.9 54.5L1007.8 54.5L1010.7 54.5L1013.6 54.5L1016.5 54.5L1019.3 54.5L1022.2 54.5L1025.1 54.5L1028.0 54.5L1030.9 54.5L1033.8 54.5L1036.7 54.5L1039.6 54.5L1042.5 54.5L1045.4 54.5L1048.3 54.5L1051.2 54.5L1054.1 54.5L1057.0 54.5L1059.9 54.5L1062.8 54.5L1065.7 54.5L1068.5 54.5L1071.4 54.5L1074.3 54.5L1077.2 54.5L1080.1 54.5L1083.0 54.5L1085.9 54.5L1088.8 54.5L1091.7 54.5L1094.6 54.5L1097.5 54.5L1100.4 54.5L1103.3 54.5L1106.2 54.5L1109.1 54.5L1112.0 54.5L1114.9 54.5L1117.7 54.5L1120.6 54.5L1123.5 54.5L1126.4 54.5L1129.3 54.5L1132.2 54.5L1135.1 54.5L1138.0 54.5L1140.9 54.5L1143.8 54.5L1146.7 54.5L1149.6 54.5L1152.5 54.5L1155.4 54.5L1158.3 54.5L1161.2 54.5L1164.0 54.5L1166.9 54.5L1169.8 54.5L1172.7 54.5L1175.6 54.5L1178.5 54.5L1181.4 54.5L1184.3 54.5L1187.2 54.5L1190.1 54.5L1193.0 54.5L1195.9 54.5L1198.8 54.5L1201.7 54.5L1204.6 54.5L1207.5 54.5L1210.4 54.5L1213.2 54.5L1216.1 54.5L1219.0 54.5L1221.9 54.5L1224.8 54.5L1227.7 54.5L1230.6 54.5L1233.5 54.5L1236.4 54.5L1239.3 54.5L1242.2 54.5L1245.1 54.5L1248.0 54.5L1250.9 54.5L1253.8 54.5L1256.7 54.5L1259.6 54.5L1262.4 54.5L1265.3 54.5L1268.2 54.5L1271.1 54.5L1274.0 54.5L1276.9 54.5L1279.8 54.5L1282.7 54.5L1285.6 54.5L1288.5 54.5L1291.4 54.5L1294.3 54.5L1297.2 54.5L1300.1 54.5L1303.0 54.5L1305.9 54.5L1308.7 54.5L1311.6 54.5L1314.5 54.5L1317.4 54.5L1320.3 54.5L1323.2 54.5L1326.1 54.5L1329.0 54.5L1331.9 54.5L1334.8 54.5L1337.7 54.5L1340.6 54.5L1343.5 54.5L1346.4 54.5L1349.3 54.5L1352.2 54.5L1355.1 54.5L1357.9 54.5L1360.8 54.5L1363.7 54.5L1366.6 54.5L1369.5 54.5L1372.4 54.5L1375.3 54.5L1378.2 54.5L1381.1 54.5L1384.0 54.5L1386.9 54.5L1389.8 54.5L1392.7 54.5L1395.6 54.5L1398.5 54.5L1401.4 54.5L1404.3 54.5L1407.1 54.5L1410.0 54.5L1412.9 54.5L1415.8 54.5L1418.7 54.5L1421.6 54.5L1424.5 54.5L1427.4 54.5L1430.3 54.5L1433.2 54.5L1436.1 54.5L1439.0 54.5L1441.9 54.5L1444.8 54.5L1447.7 54.5L1450.6 54.5L1453.4 54.5L1456.3 54.5L1459.2 54.5L1462.1 54.5L1465.0 54.5L1467.9 54.5L1470.8 54.5L1473.7 54.5L1476.6 54.5L1479.5 54.5L1482.4 54.5L1485.3 54.5L1488.2 54.5L1491.1 54.5L1494.0 54.5L1496.9 54.5L1499.8 54.5L1502.6 54.5L1505.5 54.5L1508.4 54.5L1511.3 54.5L1514.2 54.5L1517.1 54.5L1520.0 54.5L1522.9 54.5L1525.8 54.5L1528.7 54.5L1531.6 54.5L1534.5 54.5L1537.4 54.5L1540.3 54.5L1543.2 54.5L1546.1 54.5L1549.0 54.5L1551.8 54.5L1554.7 54.5L1557.6 54.5L1560.5 54.5L1563.4 54.5L1566.3 54.5L1569.2 54.5L1572.1 54.5L1575.0 54.5L1577.9 54.5L1580.8 54.5L1583.7 54.5L1586.6 54.5L1589.5 54.5L1592.4 54.5L1595.3 54.5L1598.1 54.5L1601.0 54.5L1603.9 54.5L1606.8 54.5L1609.7 54.5L1612.6 54.5L1615.5 54.5L1618.4 54.5L1621.3 54.5L1624.2 54.5L1627.1 54.5L1630.0 54.5L1632.9 54.5L1635.8 54.5L1638.7 54.5L1641.6 54.5L1644.5 54.5L1647.3 54.5L1650.2 54.5L1653.1 54.5L1656.0 54.5L1658.9 54.5L1661.8 54.5L1664.7 54.5L1667.6 54.5L1670.5 54.5L1673.4 54.5L1676.3 54.5L1679.2 54.5L1682.1 54.5L1685.0 54.5L1687.9 54.5L1690.8 54.5L1693.7 54.5L1696.5 54.5L1699.4 54.5L1702.3 54.5L1705.2 54.5L1708.1 54.5L1711.0 54.5L1713.9 54.5L1716.8 54.5L1719.7 54.5L1722.6 54.5L1725.5 54.5L1728.4 54.5L1731.3 54.5L1734.2 54.5L1737.1 54.5L1740.0 54.5L1742.8 54.5L1745.7 54.5L1748.6 54.5L1751.5 54.5L1754.4 54.5L1757.3 54.5L1760.2 54.5L1763.1 54.5L1766.0 54.5L1768.9 54.5L1771.8 54.5L1774.7 54.5L1777.6 54.5L1780.5 54.5L1783.4 54.5L1786.3 54.5L1789.2 54.5L1792.0 54.5L1794.9 54.5L1797.8 54.5L1800.7 54.5L1803.6 54.5L1806.5 54.5L1809.4 54.5L1812.3 54.5L1815.2 54.5L1818.1 54.5L1821.0 54.5L1823.9 54.5L1826.8 54.5L1829.7 54.5L1832.6 54.5L1835.5 54.5L1838.4 54.5L1841.2 54.5L1844.1 54.5L1847.0 54.5L1849.9 54.5L1852.8 54.5L1855.7 54.5L1858.6 54.5L1861.5 54.5L1864.4 54.5L1867.3 54.5L1870.2 54.5L1873.1 54.5L1876.0 54.5L1878.9 54.5L1881.8 54.5L1884.7 54.5L1887.5 54.5L1890.4 54.5L1893.3 54.5L1896.2 54.5L1899.1 54.5L1902.0 54.5L1904.9 54.5L1907.8 54.5L1910.7 54.5L1913.6 54.5L1916.5 54.5L1919.4 54.5L1922.3 54.5L1925.2 54.5L1928.1 54.5L1931.0 54.5L1933.9 54.5L1936.7 54.5L1939.6 54.5L1942.5 54.5L1945.4 54.5L1948.3 54.5L1951.2 54.5L1954.1 54.5L1957.0 54.5L1959.9 54.5L1962.8 54.5L1965.7 54.5L1968.6 54.5L1971.5 54.5L1974.1 54.5" stroke="#00f" stroke-width="8" stroke-dasharray="35 19.5" stroke-dashoffset="-3.5"/>
</g>
</g>
<rect x="235.00" y="20.00" width="5.00" height="1665.00" fill="#000"/>
<rect x="235.00" y="1680.00" width="1741.00" height="5.00" fill="#000"/>
<rect x="235.00" y="20.00" width="1741.00" height="4.00" fill="#000"/>
<rect x="1972.00" y="20.00" width="4.00" height="1665.00" fill="#000"/>
<rect x="322.20" y="1636.00" width="4.60" height="46.00" fill="#000"/>
<rect x="322.20" y="22.00" width="4.60" height="46.00" fill="#000"/>
<rect x="466.90" y="1659.00" width="4.60" height="23.00" fill="#000"/>
<rect x="466.90" y="22.00" width="4.60" height="23.00" fill="#000"/>
<rect x="611.60" y="1636.00" width="4.60" height="46.00" fill="#000"/>
<rect x="611.60" y="22.00" width="4.60" height="46.00" fill="#000"/>
<rect x="756.30" y="1659.00" width="4.60" height="23.00" fill="#000"/>
<rect x="756.30" y="22.00" width="4.60" height="23.00" fill="#000"/>
<rect x="901.00" y="1636.00" width="4.60" height="46.00" fill="#000"/>
<rect x="901.00" y="22.00" width="4.60" height="46.00" fill="#000"/>
<rect x="1045.70" y="1659.00" width="4.60" height="23.00" fill="#000"/>
<rect x="1045.70" y="22.00" width="4.60" height="23.00" fill="#000"/>
<rect x="1190.40" y="1636.00" width="4.60" height="46.00" fill="#000"/>
<rect x="1190.40" y="22.00" width="4.60" height="46.00" fill="#000"/>
<rect x="1335.10" y="1659.00" width="4.60" height="23.00" fill="#000"/>
<rect x="1335.10" y="22.00" width="4.60" height="23.00" fill="#000"/>
<rect x="1479.80" y="1636.00" width="4.60" height="46.00" fill="#000"/>
<rect x="1479.80" y="22.00" width="4.60" height="46.00" fill="#000"/>
<rect x="1624.50" y="1659.00" width="4.60" height="23.00" fill="#000"/>
<rect x="1624.50" y="22.00" width="4.60" height="23.00" fill="#000"/>
<rect x="1769.20" y="1636.00" width="4.60" height="46.00" fill="#000"/>
<rect x="1769.20" y="22.00" width="4.60" height="46.00" fill="#000"/>
<rect x="1913.90" y="1659.00" width="4.60" height="23.00" fill="#000"/>
<rect x="1913.90" y="22.00" width="4.60" height="23.00" fill="#000"/>
<rect x="238.00" y="1680.20" width="46.00" height="4.60" fill="#000"/>
<rect x="1928.00" y="1680.20" width="46.00" height="4.60" fill="#000"/>
<rect x="238.00" y="1517.40" width="23.00" height="4.60" fill="#000"/>
<rect x="1951.00" y="1517.40" width="23.00" height="4.60" fill="#000"/>
<rect x="238.00" y="1354.60" width="46.00" height="4.60" fill="#000"/>
<rect x="1928.00" y="1354.60" width="46.00" height="4.60" fill="#000"/>
<rect x="238.00" y="1191.80" width="23.00" height="4.60" fill="#000"/>
<rect x="1951.00" y="1191.80" width="23.00" height="4.60" fill="#000"/>
<rect x="238.00" y="1029.00" width="46.00" height="4.60" fill="#000"/>
<rect x="1928.00" y="1029.00" width="46.00" height="4.60" fill="#000"/>
<rect x="238.00" y="866.20" width="23.00" height="4.60" fill="#000"/>
<rect x="1951.00" y="866.20" width="23.00" height="4.60" fill="#000"/>
<rect x="238.00" y="703.40" width="46.00" height="4.60" fill="#000"/>
<rect x="1928.00" y="703.40" width="46.00" height="4.60" fill="#000"/>
<rect x="238.00" y="540.60" width="23.00" height="4.60" fill="#000"/>
<rect x="1951.00" y="540.60" width="23.00" height="4.60" fill="#000"/>
<rect x="238.00" y="377.80" width="46.00" height="4.60" fill="#000"/>
<rect x="1928.00" y="377.80" width="46.00" height="4.60" fill="#000"/>
<rect x="238.00" y="215.00" width="23.00" height="4.60" fill="#000"/>
<rect x="1951.00" y="215.00" width="23.00" height="4.60" fill="#000"/>
<rect x="238.00" y="52.20" width="46.00" height="4.60" fill="#000"/>
<rect x="1928.00" y="52.20" width="46.00" height="4.60" fill="#000"/>
<text transform="translate(325.7 1749) scale(0.975 1)" font-size="66.2" text-anchor="middle">0</text>
<text transform="translate(615.1 1749) scale(0.975 1)" font-size="66.2" text-anchor="middle">500</text>
<text transform="translate(904.5 1749) scale(0.975 1)" font-size="66.2" text-anchor="middle">1000</text>
<text transform="translate(1193.9 1749) scale(0.975 1)" font-size="66.2" text-anchor="middle">1500</text>
<text transform="translate(1483.3 1749) scale(0.975 1)" font-size="66.2" text-anchor="middle">2000</text>
<text transform="translate(1772.7 1749) scale(0.975 1)" font-size="66.2" text-anchor="middle">2500</text>
<text transform="translate(217 1704.5) scale(0.975 1)" font-size="66.2" text-anchor="end">0</text>
<text transform="translate(217 1378.9) scale(0.975 1)" font-size="66.2" text-anchor="end">0.2</text>
<text transform="translate(217 1053.3) scale(0.975 1)" font-size="66.2" text-anchor="end">0.4</text>
<text transform="translate(217 727.7) scale(0.975 1)" font-size="66.2" text-anchor="end">0.6</text>
<text transform="translate(217 402.1) scale(0.975 1)" font-size="66.2" text-anchor="end">0.8</text>
<text transform="translate(217 76.5) scale(0.975 1)" font-size="66.2" text-anchor="end">1</text>
<text x="1109.5" y="1828" font-size="79.6" text-anchor="middle">Time, t [ns]</text>
<text transform="translate(81 852.5) rotate(-90)" font-size="79.6" text-anchor="middle">Cumulative Probability Distribution, P<tspan font-size="56.5" dy="31.8">cdf</tspan></text>
<clipPath id="ci"><rect x="998" y="665" width="841" height="697"/></clipPath>
<g clip-path="url(#ci)">
<path d="M998 1361.5L1838 694.8" stroke="#9400d3" stroke-width="8" fill="none" stroke-dasharray="35 19.65" stroke-dashoffset="0"/>
</g>
<path d="M1102.2 1231.8999999999999V1278.1M1122.2 1231.8999999999999V1278.1M1102.2 1254.8H1122.2" stroke="#9400d3" stroke-width="4.2" fill="none"/>
<circle cx="1112.2" cy="1254.8" r="23.4" fill="#9400d3"/>
<circle cx="1329.3" cy="1113.8" r="23.4" fill="#9400d3"/>
<path d="M1756.1 719.7V765.9M1782.9 719.7V765.9M1756.1 742.6H1782.9" stroke="#9400d3" stroke-width="4.2" fill="none"/>
<circle cx="1769.5" cy="742.6" r="23.4" fill="#9400d3"/>
<rect x="996.00" y="661.00" width="4.00" height="705.00" fill="#000"/>
<rect x="1838.00" y="661.00" width="4.00" height="705.00" fill="#000"/>
<rect x="996.00" y="661.00" width="846.00" height="8.00" fill="#000"/>
<rect x="996.00" y="1358.00" width="846.00" height="8.00" fill="#000"/>
<rect x="1079.95" y="669.00" width="4.60" height="19.00" fill="#000"/>
<rect x="1079.95" y="1339.00" width="4.60" height="19.00" fill="#000"/>
<rect x="1164.20" y="669.00" width="4.60" height="41.00" fill="#000"/>
<rect x="1164.20" y="1317.00" width="4.60" height="41.00" fill="#000"/>
<rect x="1248.45" y="669.00" width="4.60" height="19.00" fill="#000"/>
<rect x="1248.45" y="1339.00" width="4.60" height="19.00" fill="#000"/>
<rect x="1332.70" y="669.00" width="4.60" height="41.00" fill="#000"/>
<rect x="1332.70" y="1317.00" width="4.60" height="41.00" fill="#000"/>
<rect x="1416.95" y="669.00" width="4.60" height="19.00" fill="#000"/>
<rect x="1416.95" y="1339.00" width="4.60" height="19.00" fill="#000"/>
<rect x="1501.20" y="669.00" width="4.60" height="41.00" fill="#000"/>
<rect x="1501.20" y="1317.00" width="4.60" height="41.00" fill="#000"/>
<rect x="1585.45" y="669.00" width="4.60" height="19.00" fill="#000"/>
<rect x="1585.45" y="1339.00" width="4.60" height="19.00" fill="#000"/>
<rect x="1669.70" y="669.00" width="4.60" height="41.00" fill="#000"/>
<rect x="1669.70" y="1317.00" width="4.60" height="41.00" fill="#000"/>
<rect x="1753.95" y="669.00" width="4.60" height="19.00" fill="#000"/>
<rect x="1753.95" y="1339.00" width="4.60" height="19.00" fill="#000"/>
<rect x="1000.00" y="1281.95" width="44.00" height="4.60" fill="#000"/>
<rect x="1794.00" y="1281.95" width="44.00" height="4.60" fill="#000"/>
<rect x="1000.00" y="1204.58" width="21.00" height="4.60" fill="#000"/>
<rect x="1817.00" y="1204.58" width="21.00" height="4.60" fill="#000"/>
<rect x="1000.00" y="1127.20" width="44.00" height="4.60" fill="#000"/>
<rect x="1794.00" y="1127.20" width="44.00" height="4.60" fill="#000"/>
<rect x="1000.00" y="1049.83" width="21.00" height="4.60" fill="#000"/>
<rect x="1817.00" y="1049.83" width="21.00" height="4.60" fill="#000"/>
<rect x="1000.00" y="972.45" width="44.00" height="4.60" fill="#000"/>
<rect x="1794.00" y="972.45" width="44.00" height="4.60" fill="#000"/>
<rect x="1000.00" y="895.08" width="21.00" height="4.60" fill="#000"/>
<rect x="1817.00" y="895.08" width="21.00" height="4.60" fill="#000"/>
<rect x="1000.00" y="817.70" width="44.00" height="4.60" fill="#000"/>
<rect x="1794.00" y="817.70" width="44.00" height="4.60" fill="#000"/>
<rect x="1000.00" y="740.33" width="21.00" height="4.60" fill="#000"/>
<rect x="1817.00" y="740.33" width="21.00" height="4.60" fill="#000"/>
<text transform="translate(998.0 1428) scale(0.975 1)" font-size="66.2" text-anchor="middle">4</text>
<text transform="translate(1166.5 1428) scale(0.975 1)" font-size="66.2" text-anchor="middle">5</text>
<text transform="translate(1335.0 1428) scale(0.975 1)" font-size="66.2" text-anchor="middle">6</text>
<text transform="translate(1503.5 1428) scale(0.975 1)" font-size="66.2" text-anchor="middle">7</text>
<text transform="translate(1672.0 1428) scale(0.975 1)" font-size="66.2" text-anchor="middle">8</text>
<text transform="translate(1840.5 1428) scale(0.975 1)" font-size="66.2" text-anchor="middle">9</text>
<text transform="translate(976 1305.5) scale(0.975 1)" font-size="66.2" text-anchor="end">0</text>
<text transform="translate(976 1150.7) scale(0.975 1)" font-size="66.2" text-anchor="end">0.01</text>
<text transform="translate(976 996.0) scale(0.975 1)" font-size="66.2" text-anchor="end">0.02</text>
<text transform="translate(976 841.2) scale(0.975 1)" font-size="66.2" text-anchor="end">0.03</text>
<text transform="translate(976 686.5) scale(0.975 1)" font-size="66.2" text-anchor="end">0.04</text>
<text x="1204.9" y="1540.5" class="sym" font-size="86" stroke="#000" stroke-width="2.2">|</text>
<text x="1220.9" y="1540" class="sym" font-size="79.6">Δ</text>
<text transform="translate(1270 1540) scale(1.145 1)" class="sym" font-size="79.6">Σ</text>
<text x="1317.7" y="1540.5" class="sym" font-size="86" stroke="#000" stroke-width="2.2">|</text>
<text x="1355.8" y="1540" font-size="79.6">[k<tspan font-size="56.5" dy="31.8">B</tspan><tspan dy="-31.8">T/d</tspan><tspan font-size="56.5" dy="-47.8">2</tspan><tspan dy="47.8">]</tspan></text>
<text transform="translate(800 1157.7) rotate(-90) scale(0.925 1)" class="sym" font-size="90" stroke="#000" stroke-width="1.3">ω</text>
<text transform="translate(800 1104.1) rotate(-90)" font-size="79.6"><tspan font-size="56.5" dy="31.8">pl</tspan><tspan dy="-31.8"> [ns</tspan><tspan font-size="56.5" dy="-47.8">-1</tspan><tspan dy="47.8">]</tspan></text>
</svg></body></html>
